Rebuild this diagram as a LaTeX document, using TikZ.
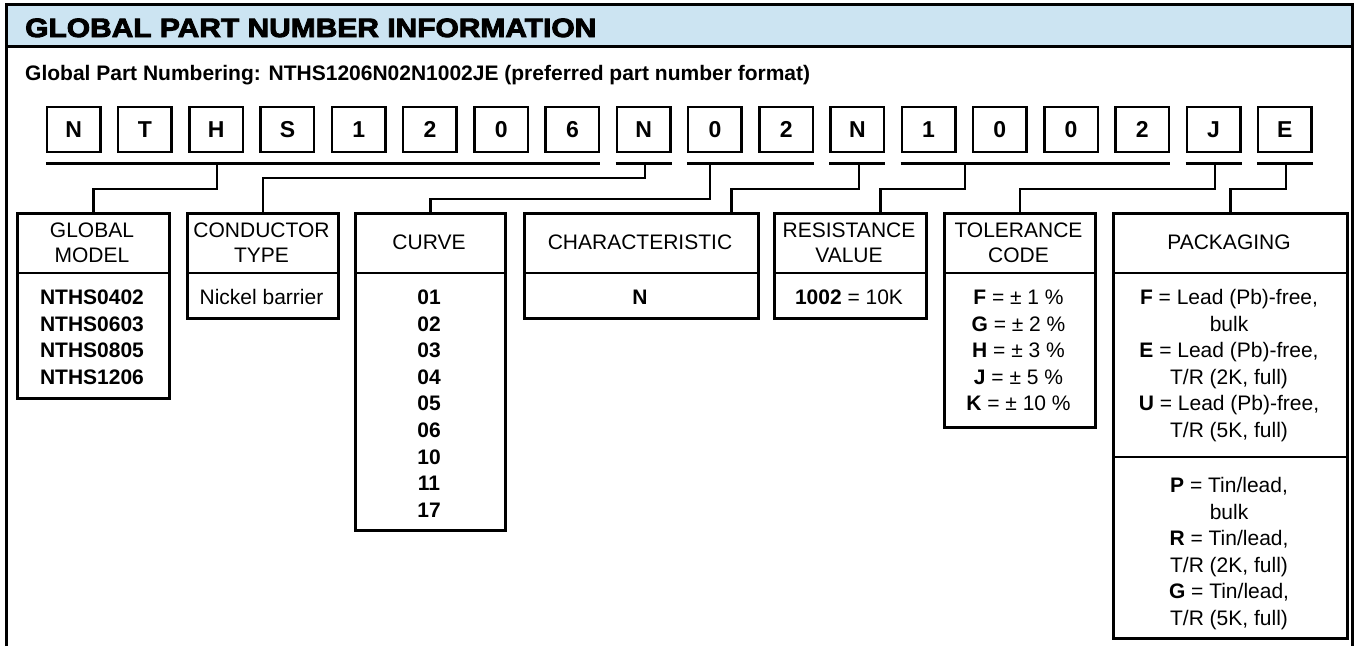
\documentclass[tikz,border=0pt]{standalone}
\usepackage{fontspec}
\setmainfont{Liberation Sans}
\newfontfamily\titlefont[FakeBold=3.5,FakeStretch=1.13]{Liberation Sans Bold}
\definecolor{hdr}{RGB}{204,228,242}
\begin{document}
\begin{tikzpicture}[x=1pt,y=-1pt,
  lbox/.style={draw,line width=2.5pt,minimum width=53.5pt,minimum height=45pt,inner sep=0pt,font=\fontsize{23}{26}\selectfont\bfseries},
  cbox/.style={draw,line width=2.5pt,inner sep=0pt,anchor=north west},
  hd/.style={align=center,font=\fontsize{21}{25}\selectfont,inner sep=0pt},
  ln/.style={anchor=base,inner sep=0pt,font=\fontsize{21}{25}\selectfont},
  bln/.style={ln,font=\fontsize{21}{25}\selectfont\bfseries},
  wire/.style={line width=2.5pt},
]
\useasboundingbox (0,0) rectangle (1356,646);
% frame and header
\fill[hdr] (6.5,4.5) rectangle (1352.5,46);
\draw[line width=3pt] (6.5,646) -- (6.5,4.5) -- (1352.5,4.5) -- (1352.5,646);
\draw[line width=3pt] (6.5,46) -- (1352.5,46);
\node[anchor=base west,inner sep=0pt,font=\titlefont\fontsize{26.5}{30}\selectfont] (title) at (25,37) {GLOBAL PART NUMBER INFORMATION};
\node[anchor=base west,inner sep=0pt,font=\fontsize{21}{25}\selectfont\bfseries] (sub) at (25,80) {Global Part Numbering: NTHS1206N02N1002JE (preferred part number format)};
% letter boxes
\foreach \c [count=\i] in {N,T,H,S,1,2,0,6,N,0,2,N,1,0,0,2,J,E}
  \node[lbox] (b\i) at ({73.75+71.24*(\i-1)},129.5) {\c};
% group bars
\foreach \a/\b in {1/8,9/9,10/11,12/12,13/16,17/17,18/18}
  \draw[wire] ([yshift=-10pt]b\a.south west) -- ([yshift=-10pt]b\b.south east);
% field boxes
\node[cbox,minimum width=152pt,minimum height=185pt] (gm) at (16,212) {};
\node[cbox,minimum width=151pt,minimum height=105pt] (ct) at (186,212) {};
\node[cbox,minimum width=150pt,minimum height=317pt] (cu) at (354,212) {};
\node[cbox,minimum width=234pt,minimum height=105pt] (ch) at (523,212) {};
\node[cbox,minimum width=152pt,minimum height=105pt] (rv) at (773,212) {};
\node[cbox,minimum width=151pt,minimum height=214pt] (tc) at (943,212) {};
\node[cbox,minimum width=234pt,minimum height=425pt] (pk) at (1112,212) {};
\foreach \n in {gm,ct,cu,ch,rv,tc,pk}
  \draw[wire] (\n.west |- 0,273) -- (\n.east |- 0,273);
\draw[wire] (pk.west |- 0,457) -- (pk.east |- 0,457);
% connectors
\coordinate (s1) at (217,162);
\coordinate (s2) at (645,162);
\coordinate (s3) at (710,162);
\coordinate (s4) at (859,162);
\coordinate (s5) at (965,162);
\coordinate (s6) at (1215,162);
\coordinate (s7) at (1286,162);
\draw[wire] (s1) |- ([yshift=23pt]gm.north) -- (gm.north);
\draw[wire] (s2) |- ([yshift=34pt]ct.north) -- (ct.north);
\draw[wire] (s3) |- ([yshift=13pt]cu.north) -- (cu.north);
\draw[wire] (s4) |- ([xshift=90pt,yshift=23pt]ch.north) -- ([xshift=90pt]ch.north);
\draw[wire] (s5) |- ([xshift=30pt,yshift=23pt]rv.north) -- ([xshift=30pt]rv.north);
\draw[wire] (s6) |- ([yshift=23pt]tc.north) -- (tc.north);
\draw[wire] (s7) |- ([yshift=23pt]pk.north) -- (pk.north);
% headers
\node[hd] (gmh) at (92,242.5) {GLOBAL\\MODEL};
\node[hd] (cth) at (261.5,242.5) {CONDUCTOR\\TYPE};
\node[hd] (cuh) at (429,242.5) {CURVE};
\node[hd] (chh) at (640,242.5) {CHARACTERISTIC};
\node[hd] (rvh) at (849,242.5) {RESISTANCE\\VALUE};
\node[hd] (tch) at (1018.5,242.5) {TOLERANCE\\CODE};
\node[hd] (pkh) at (1229,242.5) {PACKAGING};
% contents
\foreach \t [count=\k from 0] in {NTHS0402,NTHS0603,NTHS0805,NTHS1206}
  \node[bln] (gm-\k) at (92,{304.5+26.6*\k}) {\t};
\node[ln] (ct-0) at (261.5,304.5) {Nickel barrier};
\foreach \t [count=\k from 0] in {01,02,03,04,05,06,10,11,17}
  \node[bln] (cu-\k) at (429,{304.5+26.6*\k}) {\t};
\node[bln] (ch-0) at (640,304.5) {N};
\node[ln] (rv-0) at (849,304.5) {\textbf{1002} = 10K};
\foreach \t [count=\k from 0] in {{\textbf{F} = ± 1 \%},{\textbf{G} = ± 2 \%},{\textbf{H} = ± 3 \%},{\textbf{J} = ± 5 \%},{\textbf{K} = ± 10 \%}}
  \node[ln] (tc-\k) at (1018.5,{304.5+26.6*\k}) {\t};
\foreach \t [count=\k from 0] in {{\textbf{F} = Lead (Pb)-free,},bulk,{\textbf{E} = Lead (Pb)-free,},{T/R (2K, full)},{\textbf{U} = Lead (Pb)-free,},{T/R (5K, full)}}
  \node[ln] (pa-\k) at (1229,{304.5+26.6*\k}) {\t};
\foreach \t [count=\k from 0] in {{\textbf{P} = Tin/lead,},bulk,{\textbf{R} = Tin/lead,},{T/R (2K, full)},{\textbf{G} = Tin/lead,},{T/R (5K, full)}}
  \node[ln] (pb-\k) at (1229,{492.5+26.6*\k}) {\t};
\end{tikzpicture}
\end{document}
